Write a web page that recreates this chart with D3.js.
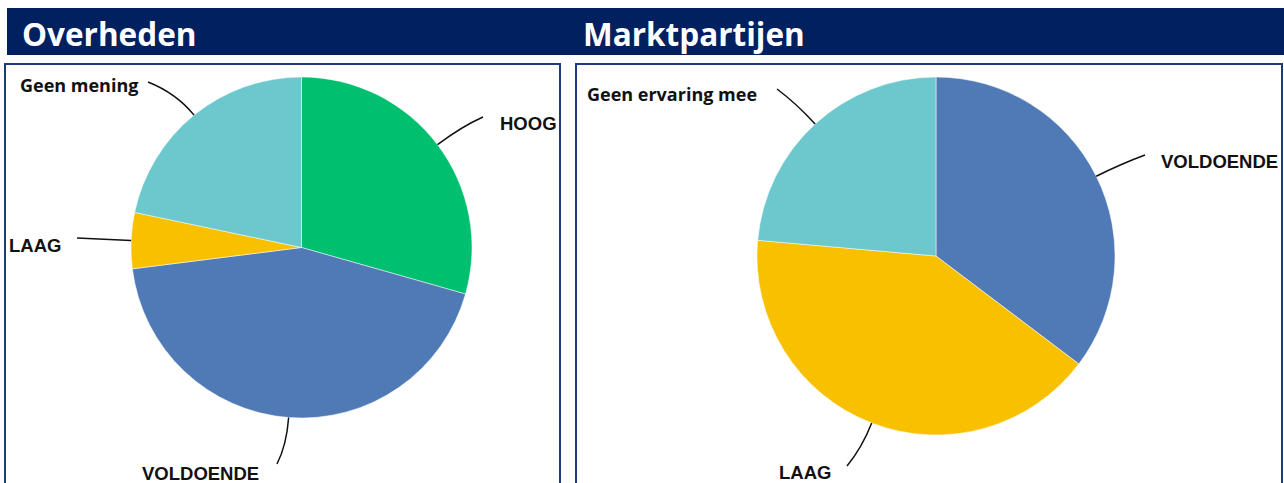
<!DOCTYPE html>
<html><head><meta charset="utf-8">
<script src="https://cdn.jsdelivr.net/npm/d3@7"></script>
<style>body{margin:0;background:#fff;}svg{display:block;}</style>
</head><body>
<svg id="c" width="1284" height="483"></svg>
<script>
// ---- data ----
const titles = ["Overheden", "Marktpartijen"];
const overhedenCategories = ["HOOG", "VOLDOENDE", "LAAG", "Geen mening"];
const overhedenValues = [29.4, 43.6, 5.3, 21.7];
const marktCategories = ["VOLDOENDE", "LAAG", "Geen ervaring mee"];
const marktValues = [35.3, 41.1, 23.6];

const colorMap = {"HOOG":"#00BF6F","VOLDOENDE":"#4F7AB6","LAAG":"#F9C000","Geen mening":"#6CC8CD","Geen ervaring mee":"#6CC8CD"};

// ---- layout ----
const svg = d3.select("#c");
const navy = "#002060";
svg.append("rect").attr("x",7).attr("y",8).attr("width",1277).attr("height",47).attr("fill",navy);
const titleX = [22, 583];
titles.forEach((t,i)=>svg.append("text").attr("x",titleX[i]).attr("y",45.5)
  .attr("font-family","Open Sans").attr("font-weight",700).attr("font-size",31.5)
  .attr("fill","#fff").text(t));

const panels = [
  {x:5,y:64,w:555,h:430, cx:301.5, cy:247.5, r:170.5, cats:overhedenCategories, vals:overhedenValues,
   labels:{
     "HOOG":{end:[483,117], lx:500, ly:129.5, font:"caps", ext:30},
     "VOLDOENDE":{end:[277,464], lx:142, ly:480, font:"caps", ext:28},
     "LAAG":{end:[77,238], lx:9, ly:251.5, font:"caps", ext:20},
     "Geen mening":{end:[148,82], lx:20, ly:91.5, font:"mixed", ext:28}
   }},
  {x:576,y:64,w:706,h:430, cx:936, cy:256, r:179, cats:marktCategories, vals:marktValues,
   labels:{
     "VOLDOENDE":{end:[1145,155], lx:1161, ly:167.5, font:"caps", ext:28},
     "LAAG":{end:[847,466], lx:779, ly:479, font:"caps", ext:26},
     "Geen ervaring mee":{end:[777,89], lx:587, ly:101, font:"mixed", ext:28}
   }}
];

panels.forEach(p=>{
  svg.append("rect").attr("x",p.x).attr("y",p.y).attr("width",p.w).attr("height",p.h)
    .attr("fill","none").attr("stroke","#1F3A7A").attr("stroke-width",2);
  const data = p.cats.map((c,i)=>({cat:c, val:p.vals[i]}));
  const pie = d3.pie().value(d=>d.val).sort(null);
  const arcs = pie(data);
  const arc = d3.arc().innerRadius(0).outerRadius(p.r);
  const g = svg.append("g").attr("transform",`translate(${p.cx},${p.cy})`);
  g.selectAll("path.s").data(arcs).join("path").attr("class","s")
    .attr("d",arc).attr("fill",d=>colorMap[d.data.cat])
    .attr("stroke","#fff").attr("stroke-width",0.5);
  arcs.forEach(a=>{
    const L = p.labels[a.data.cat];
    const m = (a.startAngle+a.endAngle)/2;
    const sx = p.cx + p.r*Math.sin(m), sy = p.cy - p.r*Math.cos(m);
    const ex = p.cx + (p.r+L.ext)*Math.sin(m), ey = p.cy - (p.r+L.ext)*Math.cos(m);
    const [tx,ty] = L.end;
    svg.append("path")
      .attr("d",`M${sx},${sy} Q${ex},${ey} ${tx},${ty}`)
      .attr("fill","none").attr("stroke","#111").attr("stroke-width",1.5);
    const t = svg.append("text").attr("x",L.lx).attr("y",L.ly)
      .attr("fill","#111").text(a.data.cat);
    if(L.font==="caps"){
      t.attr("font-family","Liberation Sans, Arial").attr("font-weight",700).attr("font-size",18.5);
    } else {
      t.attr("font-family","Open Sans").attr("font-weight",700).attr("font-size",18);
    }
  });
});
</script>
</body></html>
